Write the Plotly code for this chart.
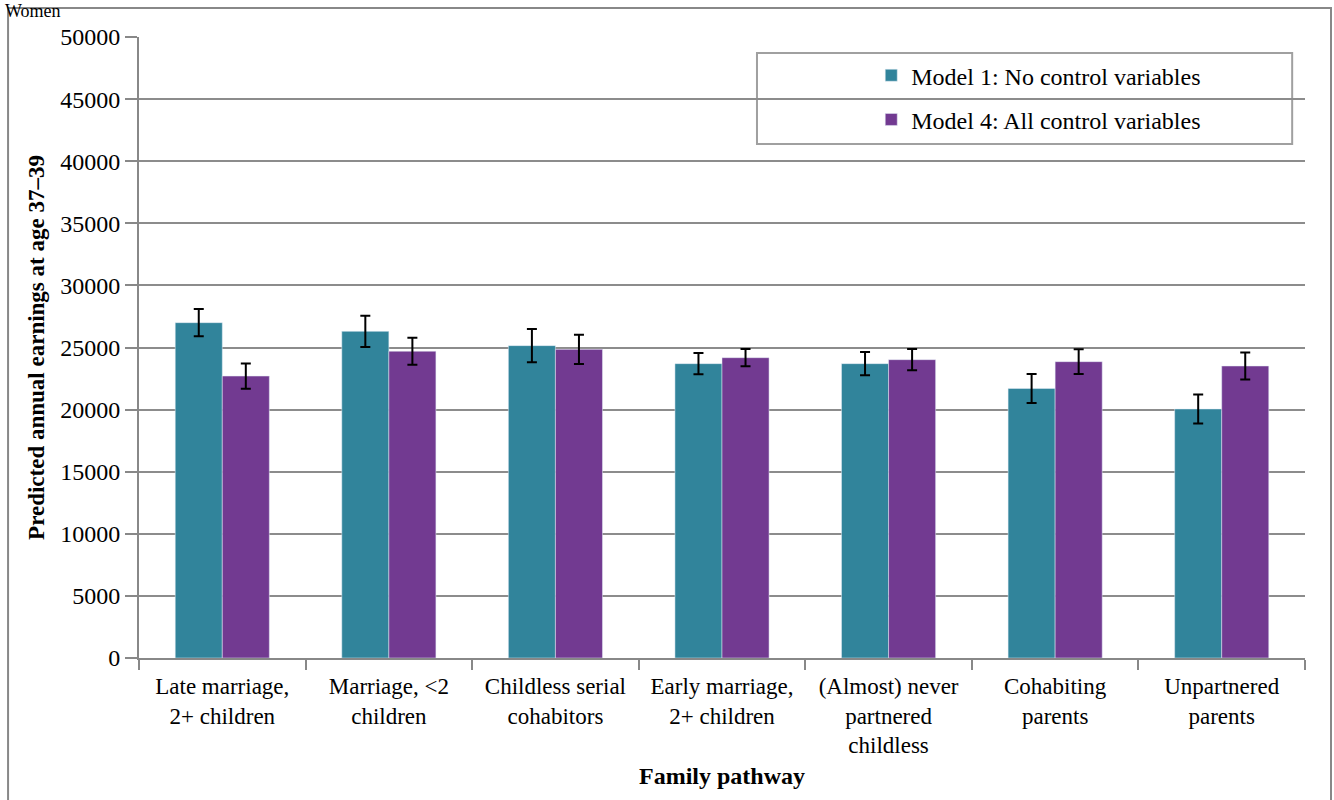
import plotly.graph_objects as go

categories = ["Late marriage,<br>2+ children", "Marriage, <2<br>children", "Childless serial<br>cohabitors",
              "Early marriage,<br>2+ children", "(Almost) never<br>partnered<br>childless",
              "Cohabiting<br>parents", "Unpartnered<br>parents"]
model1 = [27000, 26300, 25150, 23700, 23700, 21700, 20050]
model1_err = [1100, 1250, 1340, 850, 930, 1170, 1170]
model4 = [22700, 24700, 24850, 24180, 24020, 23860, 23510]
model4_err = [1020, 1080, 1170, 690, 850, 1000, 1090]
yticks = list(range(0, 50001, 5000))
yticklabels = [str(v) for v in yticks]

FONT = "Liberation Serif"
TEAL = "#31849B"
PURPLE = "#723A91"

fig = go.Figure()
fig.add_trace(go.Bar(x=categories, y=model1, name="Model 1: No control variables", marker_color=TEAL,
                     legendgroup="a",
                     error_y=dict(type="data", array=model1_err, color="black", thickness=2, width=5)))
fig.add_trace(go.Bar(x=categories, y=model4, name="Model 4: All control variables", marker_color=PURPLE,
                     legendgroup="b",
                     error_y=dict(type="data", array=model4_err, color="black", thickness=2, width=5)))

fig.update_layout(
    width=1334, height=800,
    margin=dict(l=139, r=29, t=37, b=142),
    paper_bgcolor="white", plot_bgcolor="white",
    font=dict(family=FONT, size=20, color="black"),
    barmode="group", bargap=0.435, bargroupgap=0,
    showlegend=True,
    legend=dict(x=0.628, y=0.974, xanchor="left", yanchor="top", bgcolor="rgba(0,0,0,0)",
                borderwidth=0, font=dict(family=FONT, size=24, color="black"), tracegroupgap=10,
                traceorder="grouped"),
    xaxis=dict(showline=True, linecolor="#888888", linewidth=2, ticks="outside", tickson="boundaries",
               ticklen=10, tickwidth=2, tickcolor="#888888", ticklabelstandoff=6,
               tickfont=dict(family=FONT, size=23, color="black"),
               title=dict(text="<b>Family pathway</b>", font=dict(family=FONT, size=24, color="black"),
                          standoff=10)),
    yaxis=dict(range=[0, 50000], tickvals=yticks, ticktext=yticklabels, showgrid=True, gridcolor="#8c8c8c",
               gridwidth=2, showline=True, linecolor="#888888", linewidth=2, ticks="outside", ticklen=12,
               tickwidth=2, tickcolor="#888888", tickfont=dict(family=FONT, size=24, color="black"),
               zeroline=False,
               title=dict(text="<b>Predicted annual earnings at age 37–39</b>",
                          font=dict(family=FONT, size=23, color="black"), standoff=9)),
    shapes=[
        dict(type="rect", xref="paper", yref="paper", x0=-0.1123, x1=1.0223, y0=-0.24, y1=1.0467,
             line=dict(color="#888888", width=2), fillcolor="rgba(0,0,0,0)", layer="below"),
        dict(type="rect", xref="paper", yref="paper", x0=0.530, x1=0.989, y0=(658-144)/621, y1=(658-53)/621,
             line=dict(color="#a0a0a0", width=2), fillcolor="white", layer="below"),
    ],
    annotations=[
        dict(text="Women", xref="paper", yref="paper", x=-0.117, y=(658 + 1) / 621, xanchor="left",
             yanchor="top", showarrow=False, font=dict(family=FONT, size=18, color="black")),
    ],
)

fig.write_html("out.html")
